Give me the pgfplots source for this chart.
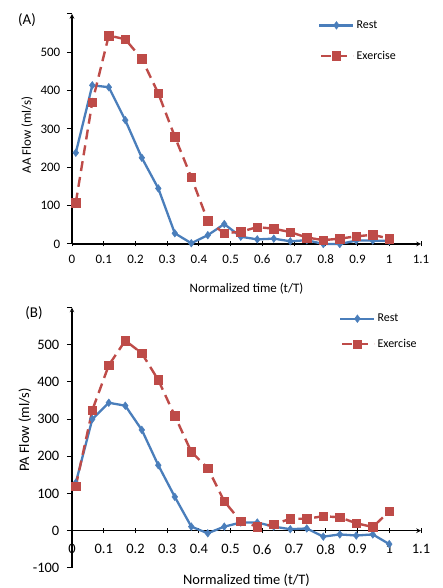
\documentclass[border=0pt]{standalone}
\usepackage{fontspec}
\setmainfont{Carlito}
\usepackage{pgfplots}
\pgfplotsset{compat=1.18}
\usetikzlibrary{arrows.meta}

\definecolor{restblue}{HTML}{4A7EBB}
\definecolor{exred}{HTML}{BE4B48}

\pgfplotsset{
  flow/.style={
    scale only axis,
    width=349bp,
    xmin=0, xmax=1.1,
    ymax=600,
    xtick={0,0.1,0.2,0.3,0.4,0.5,0.6,0.7,0.8,0.9,1,1.1},
    xticklabels={0,0.1,0.2,0.3,0.4,0.5,0.6,0.7,0.8,0.9,1,1.1},
    axis line style={line width=1.1bp, -{Latex[length=6bp,width=5bp]}},
    tick align=center,
    major tick length=5bp,
    tick style={black, line width=1bp},
    y tick style={xshift=-2.5bp},
    xticklabel style={anchor=center, inner sep=0pt},
    yticklabel style={anchor=east, inner sep=0pt},
    hide obscured x ticks=false,
    hide obscured y ticks=false,
    clip=false,
    legend cell align=left,
    legend style={draw=none, fill=none, inner sep=0pt, column sep=0bp,
      nodes={font=\fontsize{12}{14}\selectfont}},
    legend image code/.code={%
      \draw[mark repeat=2, mark phase=2, ##1, dash phase=14bp] plot coordinates {(0bp,0bp) (17bp,0bp) (34bp,0bp)};},
  },
  rest/.style={restblue, line width=2.3bp, mark=diamond*, mark size=3.8bp,
    mark options={solid, fill=restblue, draw=restblue, line width=0.5bp}},
  exer/.style={exred, line width=2.4bp, dash pattern=on 10bp off 6bp, mark=square*,
    mark size=4.3bp, mark options={solid, fill=exred, draw=exred, line width=0.5bp}},
}

\begin{document}
\begin{tikzpicture}
\useasboundingbox (0,0) rectangle (443bp,588bp);

% panel A
\begin{axis}[flow,
  at={(72bp,344bp)}, anchor=south west,
  height=230bp,
  ymin=0,
  axis lines=left,
  ytick={0,100,200,300,400,500,600},
  yticklabels={0,100,200,300,400,500,{}},
  tick label style={font=\fontsize{13}{15}\selectfont},
  xticklabel style={yshift=-13bp},
  yticklabel style={xshift=-9bp},
  xlabel={Normalized time (t/T)},
  ylabel={AA Flow (ml/s)},
  every axis x label/.style={at={(axis description cs:0.5,-0.193)}, anchor=center,
    font=\fontsize{13}{15}\selectfont},
  every axis y label/.style={at={(axis description cs:-0.129,0.474)}, anchor=center,
    rotate=90, font=\fontsize{13}{15}\selectfont},
  legend style={at={(axis description cs:0.705,0.98)}, anchor=north west,
    row sep=17bp},
]
\addplot[rest] coordinates {
  (0.012,238) (0.064,414) (0.116,409) (0.168,323) (0.220,225)
  (0.272,145) (0.324,28) (0.376,2) (0.428,23) (0.480,52)
  (0.532,19) (0.584,12) (0.636,14) (0.688,7) (0.740,10)
  (0.792,0) (0.844,0) (0.896,9) (0.948,9) (1.000,8)
};
\addlegendentry{Rest}
\addplot[exer] coordinates {
  (0.012,108) (0.064,370) (0.116,544) (0.168,534) (0.220,483)
  (0.272,393) (0.324,280) (0.376,174) (0.428,60) (0.480,28)
  (0.532,32) (0.584,44) (0.636,40) (0.688,31) (0.740,17)
  (0.792,10) (0.844,14) (0.896,20) (0.948,24) (1.000,14)
};
\addlegendentry{Exercise}
\end{axis}
\node[font=\fontsize{15}{17}\selectfont] at (27bp,568bp) {(A)};

% panel B
\begin{axis}[flow,
  at={(72bp,20.1bp)}, anchor=south west,
  height=260.4bp,
  ymin=-100,
  axis x line=middle, axis y line=left,
  ytick={-100,0,100,200,300,400,500,600},
  yticklabels={-100,0,100,200,300,400,500,{}},
  tick label style={font=\fontsize{14.5}{17}\selectfont},
  xticklabel style={yshift=-16bp},
  yticklabel style={xshift=-10bp},
  xlabel={Normalized time (t/T)},
  ylabel={PA Flow (ml/s)},
  every axis x label/.style={at={(axis description cs:0.5,-0.046)}, anchor=center,
    font=\fontsize{14.5}{17}\selectfont},
  every axis y label/.style={at={(axis description cs:-0.135,0.53)}, anchor=center,
    rotate=90, font=\fontsize{14.5}{17}\selectfont},
  legend style={at={(axis description cs:0.765,0.983)}, anchor=north west,
    row sep=12bp},
]
\addplot[rest] coordinates {
  (0.012,129) (0.064,300) (0.116,344) (0.168,336) (0.220,271)
  (0.272,176) (0.324,91) (0.376,11) (0.428,-7) (0.480,11)
  (0.532,22) (0.584,22) (0.636,11) (0.688,4) (0.740,6)
  (0.792,-16) (0.844,-10) (0.896,-13) (0.948,-10) (1.000,-36)
};
\addlegendentry{Rest}
\addplot[exer] coordinates {
  (0.012,120) (0.064,324) (0.116,445) (0.168,511) (0.220,477)
  (0.272,405) (0.324,309) (0.376,212) (0.428,168) (0.480,79)
  (0.532,25) (0.584,11) (0.636,17) (0.688,32) (0.740,32)
  (0.792,39) (0.844,36) (0.896,20) (0.948,10) (1.000,52)
};
\addlegendentry{Exercise}
\end{axis}
\node[font=\fontsize{15}{17}\selectfont] at (34bp,275bp) {(B)};
\end{tikzpicture}
\end{document}
